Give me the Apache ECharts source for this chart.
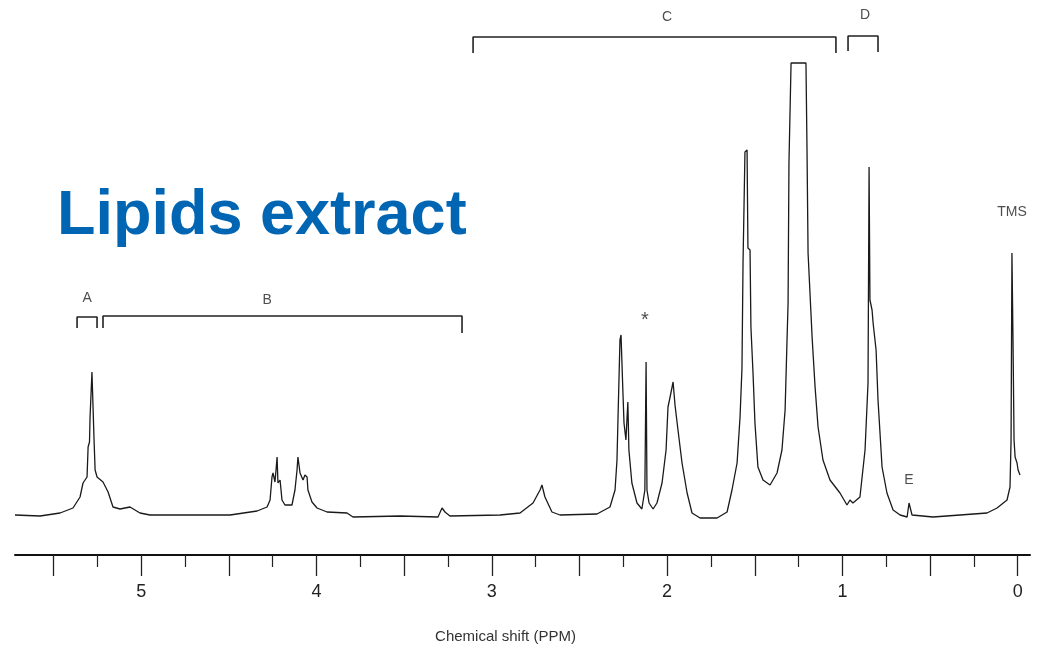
<!DOCTYPE html>
<html>
<head>
<meta charset="utf-8">
<title>Lipids extract</title>
<script src="https://cdn.jsdelivr.net/npm/echarts@6/dist/echarts.min.js"></script>
<style>
  html, body { margin: 0; padding: 0; background: #fff; }
  #nmrchart { width: 1048px; height: 650px; }
</style>
</head>
<body>
<div id="nmrchart"></div>
<script>
// chemical shift (ppm) and signal height (arbitrary units)
const shiftPpm = [
  5.720, 5.577, 5.463, 5.389, 5.349, 5.332, 5.309, 5.303, 5.295, 5.292,
  5.286, 5.281, 5.275, 5.269, 5.263, 5.252, 5.218, 5.189, 5.161, 5.121,
  5.064, 5.007, 4.950, 4.665, 4.493, 4.339, 4.282, 4.265, 4.254, 4.248,
  4.237, 4.231, 4.225, 4.220, 4.208, 4.197, 4.180, 4.140, 4.123, 4.111,
  4.106, 4.094, 4.077, 4.066, 4.054, 4.049, 4.026, 3.997, 3.940, 3.826,
  3.792, 3.524, 3.307, 3.284, 3.267, 3.239, 2.953, 2.839, 2.765, 2.725,
  2.714, 2.697, 2.657, 2.611, 2.400, 2.326, 2.297, 2.286, 2.280, 2.269,
  2.263, 2.252, 2.246, 2.235, 2.224, 2.218, 2.201, 2.172, 2.144, 2.127,
  2.120, 2.115, 2.103, 2.080, 2.058, 2.029, 2.006, 1.995, 1.983, 1.966,
  1.955, 1.938, 1.915, 1.886, 1.858, 1.812, 1.715, 1.658, 1.630, 1.601,
  1.584, 1.573, 1.567, 1.556, 1.544, 1.539, 1.527, 1.522, 1.510, 1.499,
  1.482, 1.453, 1.413, 1.373, 1.345, 1.327, 1.316, 1.310, 1.305, 1.293,
  1.208, 1.202, 1.196, 1.173, 1.156, 1.139, 1.111, 1.071, 1.014, 0.974,
  0.957, 0.940, 0.900, 0.871, 0.854, 0.848, 0.843, 0.831, 0.825, 0.808,
  0.797, 0.774, 0.746, 0.711, 0.671, 0.631, 0.620, 0.603, 0.483, 0.175,
  0.118, 0.061, 0.044, 0.038, 0.033, 0.027, 0.021, 0.015, 0.004, -0.002,
  -0.013
];
const intensity = [
  5, 4, 7, 12, 23, 37, 43, 73, 78, 102,
  100, 148, 148, 80, 50, 43, 38, 28, 13, 11,
  13, 7, 5, 5, 5, 9, 13, 20, 43, 47,
  38, 50, 63, 37, 40, 20, 15, 15, 30, 50,
  63, 47, 40, 45, 43, 30, 18, 12, 8, 7,
  3, 4, 3, 12, 8, 4, 5, 7, 17, 30,
  35, 23, 8, 5, 6, 13, 30, 60, 103, 180,
  185, 127, 97, 80, 118, 70, 37, 17, 11, 30,
  158, 30, 17, 11, 17, 37, 70, 113, 123, 138,
  115, 90, 57, 27, 7, 2, 2, 8, 30, 57,
  103, 152, 257, 368, 370, 272, 270, 193, 147, 97,
  53, 40, 35, 47, 70, 110, 180, 217, 357, 457,
  457, 370, 267, 183, 133, 93, 60, 40, 27, 15,
  20, 17, 23, 70, 137, 353, 220, 210, 197, 170,
  120, 53, 27, 10, 5, 3, 17, 5, 3, 7,
  12, 20, 33, 80, 267, 180, 80, 63, 57, 50,
  45
];

// integration brackets (ppm / height)
const bracketA = [[5.366, 192], [5.366, 203], [5.252, 203], [5.252, 192]];
const bracketB = [[5.218, 192], [5.218, 204], [3.170, 204], [3.170, 187]];
const bracketC = [[3.107, 467], [3.107, 483], [1.037, 483], [1.037, 467]];
const bracketD = [[0.968, 469], [0.968, 484], [0.797, 484], [0.797, 468]];

const markNames = ["A", "B", "C", "D", "*", "E", "TMS"];
const markPpm = [5.309, 4.282, 2.001, 0.871, 2.127, 0.620, 0.033];
const markHeight = [222, 220, 503, 505, 200, 40, 308];

const labelTicks = [0, 1, 2, 3, 4, 5];
const halfTicks = [0, 0.5, 1, 1.5, 2, 2.5, 3, 3.5, 4, 4.5, 5, 5.5];
const quarterTicks = [0.25, 0.75, 1.25, 1.75, 2.25, 2.75, 3.25, 3.75, 4.25, 4.75, 5.25];

const myChart = echarts.init(document.getElementById("nmrchart"));

const bracketSeries = (data) => ({
  type: "line",
  xAxisIndex: 0,
  data: data,
  showSymbol: false,
  silent: true,
  lineStyle: { color: "#222", width: 1.6 },
});

const option = {
  animation: false,
  backgroundColor: "#fff",
  title: {
    text: "Lipids extract",
    left: 52,
    top: 180,
    textStyle: {
      fontFamily: "Liberation Sans",
      fontSize: 63,
      fontWeight: "bold",
      color: "#0066b3",
    },
  },
  grid: { left: 15, right: 18, top: 0, bottom: 95 },
  xAxis: [
    {
      type: "value",
      inverse: true,
      min: -0.07,
      max: 5.72,
      name: "Chemical shift (PPM)",
      nameLocation: "middle",
      nameGap: 74,
      nameTextStyle: {
        fontFamily: "Liberation Sans",
        fontSize: 15,
        color: "#333",
        padding: [0, 34, 0, 0],
      },
      axisLine: { show: true, onZero: false, lineStyle: { color: "#111", width: 2 } },
      axisTick: {
        show: true,
        length: 21,
        customValues: halfTicks,
        lineStyle: { color: "#222", width: 1.3 },
      },
      axisLabel: {
        show: true,
        customValues: labelTicks,
        margin: 28,
        fontFamily: "Liberation Sans",
        fontSize: 18,
        color: "#222",
      },
      splitLine: { show: false },
    },
    {
      type: "value",
      inverse: true,
      min: -0.07,
      max: 5.72,
      position: "bottom",
      axisLine: { show: false, onZero: false },
      axisTick: {
        show: true,
        length: 12,
        customValues: quarterTicks,
        lineStyle: { color: "#222", width: 1.2 },
      },
      axisLabel: { show: false },
      splitLine: { show: false },
    },
  ],
  yAxis: { type: "value", min: -35, max: 520, show: false },
  series: [
    {
      name: "spectrum",
      type: "line",
      xAxisIndex: 0,
      data: shiftPpm.map((p, i) => [p, intensity[i]]),
      showSymbol: false,
      lineStyle: { color: "#1a1a1a", width: 1.3 },
    },
    bracketSeries(bracketA),
    bracketSeries(bracketB),
    bracketSeries(bracketC),
    bracketSeries(bracketD),
    {
      type: "scatter",
      xAxisIndex: 0,
      symbolSize: 0,
      silent: true,
      data: markNames.map((n, i) => ({
        name: n,
        value: [markPpm[i], markHeight[i]],
        label: n === "*" ? { fontSize: 20 } : undefined,
      })),
      label: {
        show: true,
        position: "inside",
        formatter: (p) => p.name,
        fontFamily: "Liberation Sans",
        fontSize: 14,
        color: "#222",
      },
    },
  ],
};

myChart.setOption(option);
window.addEventListener("resize", function () {
  myChart && myChart.resize();
});
</script>
</body>
</html>
